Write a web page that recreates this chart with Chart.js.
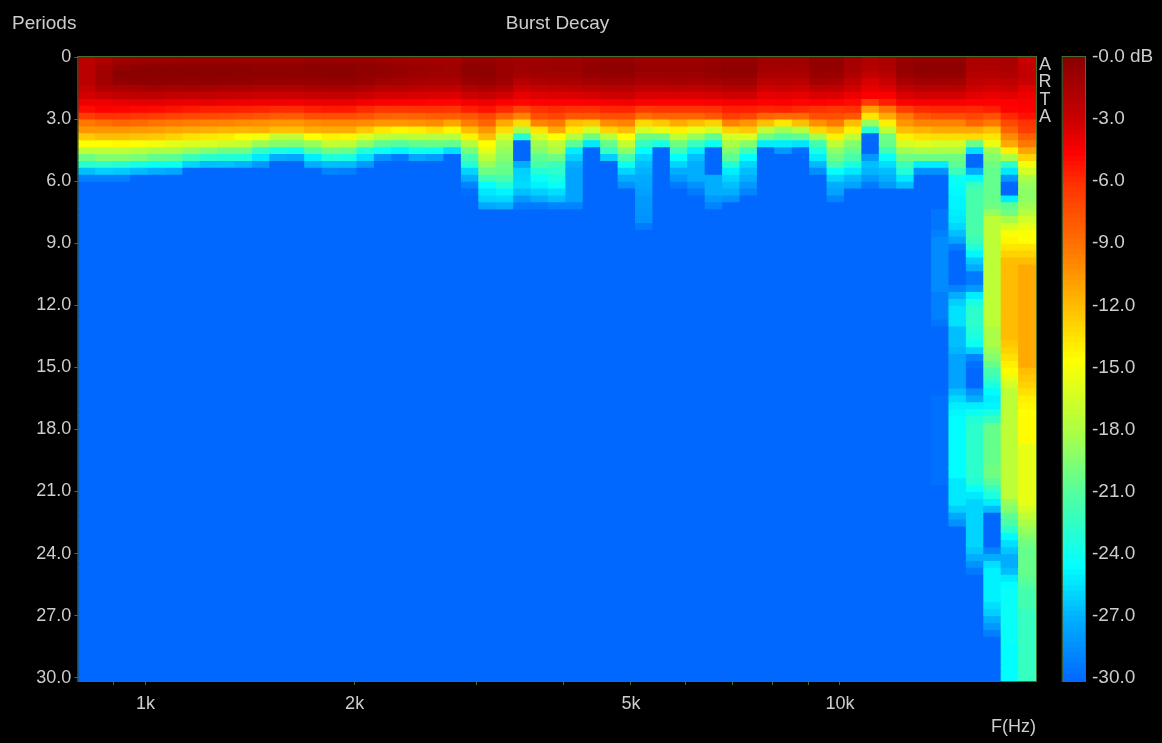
<!DOCTYPE html>
<html>
<head>
<meta charset="utf-8">
<title>Burst Decay</title>
<script src="https://cdn.jsdelivr.net/npm/chart.js@4/dist/chart.umd.min.js"></script>
<style>
  html, body { margin: 0; padding: 0; background: #000; overflow: hidden; }
  #wrap { position: relative; width: 1162px; height: 743px; }
  #decay { position: absolute; left: 0; top: 0; }
  #scale { position: absolute; left: 1040px; top: 0; }
</style>
</head>
<body>
<div id="wrap">
  <canvas id="decay" width="1162" height="743"></canvas>
  <canvas id="scale" width="122" height="743"></canvas>
</div>
<script>
// 1/12 octave columns, lower edge of each band in Hz
const freqs = [800,848,898,951,1008,1068,1131,1199,1270,1345,1425,1510,1600,1695,1796,1903,2016,2136,2263,2397,2540,2691,2851,3020,3200,3390,3592,3805,4032,4271,4525,4795,5080,5382,5702,6041,6400,6781,7184,7611,8063,8543,9051,9589,10159,10764,11404,12082,12800,13561,14368,15222,16127,17086,18102];
const freqTicks = [900,1000,2000,3000,4000,5000,6000,7000,8000,9000,10000];
const freqTickLabels = ["","1k","2k","","","5k","","","","","10k"];
const periodTicks = [0,3,6,9,12,15,18,21,24,27,30];
const dbTicks = [0,-3,-6,-9,-12,-15,-18,-21,-24,-27,-30];
const rowsPerPeriod = 3;
const rowCount = 91;
const floorDb = 30;

// dB below peak, one list per column, one value per 1/3 period; rows past the end sit at the floor
const decay = [
  [2.2,2.2,2.2,2.2,2.6,3.2,4,4.8,6.5,9.2,10.4,12.4,14.5,17.2,20,22.8,26.5,29],
  [1.6,1.2,1,1.2,1.6,2.8,4,4.5,6,8.8,10.4,12,14.5,17.2,19.3,22.6,26,29],
  [.9,.3,0,.3,1.4,2.5,3.8,4.6,6,8.3,10.4,12,14.3,17.2,19.3,23,26.2,29],
  [.8,.1,0,.2,1.3,2.4,3.7,4.7,6.3,8.6,10.6,12.2,14.7,17.6,19.6,23.6,26.6],
  [.7,0,0,.2,1.2,2.4,3.7,4.8,6.5,9,10.7,12.4,15,18,20.4,24,27],
  [.7,0,0,.2,1.3,2.5,3.8,5,6.8,9.2,11,12.8,15.6,18,20.6,24,27.4],
  [.6,0,0,.3,1.2,2.6,3.9,5.2,7,9.4,11.2,13.3,16,18.8,22,25.8],
  [.6,0,0,.2,1.3,2.6,3.8,5.4,7.1,9.6,11.3,13.6,16.2,19.4,22.7,26.5],
  [.6,0,0,.3,1.5,2.7,4,5.4,7.2,9.7,11.6,13.8,16.6,20,23,26.4],
  [.7,0,.2,.4,1.5,2.8,4,5.5,7.4,10,11.6,14.4,17,20,23.2,26.8],
  [.7,.2,.2,.5,1.7,3,4.1,5.6,7.6,10.2,11.4,15,18.6,22.3,25.2,27.9],
  [.7,.2,.2,.5,1.7,2.9,4.1,5.8,7.9,10.4,12,17,19.3,23.5,27.1],
  [.7,.2,.2,.6,1.7,3,4.2,5.8,7.9,10.4,12,17,19.4,23.8,27.4],
  [.5,0,.2,.6,1.5,2.8,4,5.4,7.4,10,11.3,14.5,18.7,21,25,27.1],
  [.5,0,.1,.4,1.3,2.7,3.9,5.2,7.3,9.8,11.2,14,17,20,23.2,26.5,28.8],
  [.6,0,.1,.4,1.3,2.7,3.9,5.2,7.3,9.8,11.2,14.2,17.2,20.2,23.4,26.6,29],
  [.6,.2,.3,.6,1.6,3,4.2,5.8,7.6,10,12.4,16,19,23,25.5,27.9],
  [.7,.3,.4,.9,2,3.3,4.4,6.2,8.2,10.4,13.6,17.2,20.6,24.2,28.2],
  [1,.5,.6,1.1,2.1,3.3,4.5,6.2,8.4,10.4,14.2,17.6,21,24.8,29.2],
  [1.1,.7,.8,1.3,2.2,3.4,4.5,6.1,8.2,10.2,13.9,17.2,20.5,23.8,27.4],
  [1.2,.8,.9,1.4,2.3,3.4,4.6,6,8,10,13.3,17.6,20.2,24,27.8],
  [1.2,.9,1,1.5,2.4,3.5,4.6,6.2,8,11,14.2,17.6,20.5,25.5],
  [.5,.2,.3,.7,1.7,3,4.2,5.4,7.7,9.4,12,14,17.7,19.8,21.5,23,25.8,27.1,28.8,29.7],
  [.5,.2,.2,.5,1.5,2.8,4,5,6.9,8.3,10.4,12,14.5,15.5,17.2,18.7,20,21.8,24.4,25.2,25.8,27.3],
  [.8,.7,.7,1,1.9,3.2,4.4,5.7,8.3,11.2,13.2,16.4,18,18.7,19.3,20,20.3,21.4,23,24.8,25.7,27],
  [1,.9,1.2,2,2.9,3.8,4.6,6.9,9.6,13.1,18,23,30,30,30,27.1,26,25.8,25.6,26.5,27.9,29.2],
  [.9,.8,1,1.6,2.6,3.6,4.5,6,7.3,9.6,13.5,16.4,18.4,19.3,20.6,21.4,23,24.2,24.9,26,27.1,29.2],
  [.8,.7,1,1.5,2.5,3.5,4.5,5.8,6.9,9.2,11.2,14.5,17.2,18,20,22,22.6,23.4,24.2,25.5,26.5,28.8],
  [.8,.7,.9,1.4,2.4,3.5,4.5,6,7.7,12,13.7,17.6,20.6,25,26,27.1,27.5,27.5,27.5,27.5,27.5,28.8],
  [.5,.3,.5,1.1,2.2,3.3,4.4,6,7.7,12.4,16.4,20,25.2],
  [.4,.2,.4,1,2,3.1,4.3,5.6,7.3,10,12.8,17.6,20.4,22.2,26],
  [.4,.2,.4,1,2,3,4.2,5.6,7.3,9.6,12,14.5,17,19,21.5,24,25.8,27.1,28.2],
  [.8,.6,.8,1.3,2.3,3.4,4.5,6.4,8.8,13,16.4,20,22.3,24.5,25.8,26.5,26.9,27.2,27.4,27.6,27.9,27.9,28.1,28.2,29.2],
  [.8,.6,.8,1.3,2.3,3.4,4.5,6.2,8.3,12.4,15.5,20,23.5],
  [.8,.6,.7,1.2,2.2,3.4,4.5,6.2,8.3,11.2,14,17.2,20,22,24.4,25.8,27.1,27.9,29.2],
  [.8,.6,.8,1.3,2.3,3.4,4.5,6.2,8.3,12,15.5,18.7,22.2,25,26.5,27.1,27.1,27.1,28.2,29.2],
  [.6,.4,.6,1.1,2.2,3.3,4.4,6,7.7,12.8,16.4,20.4,24,30,30,30,30,27.1,27.1,27.1,27.9,28.8],
  [.3,.2,.3,.9,1.9,3.1,4.3,5.4,6.5,9.6,12.8,16.4,18,19.3,20.6,23,25,25.8,26.5,27.1,28.2],
  [.3,.2,.3,.9,1.9,3.1,4.3,5.4,6.9,10.4,12.4,16,19.3,21.8,24.5,25.8,26.5,27.1,27.9,28.8],
  [1,1.2,1.5,2.2,3,3.8,4.5,5.6,8.3,12,17.2,20,25],
  [.9,1.1,1.4,2,2.8,3.7,4.4,5.5,8.6,13.6,18.5,21,25,27.9],
  [1,1.2,1.5,2.2,3,3.8,4.6,5.8,8.6,12,17.6,20.6,25.3,29.6],
  [.3,.4,.6,1.2,2.3,3.4,4.5,6,7.3,10.2,13,18.2,21.8,23.4,25,26.7,28.4],
  [.3,.4,.7,1.3,2.4,3.5,4.6,6.3,7.3,9.2,12,13.9,17.2,19,20,21.4,24.3,25.8,27.1,27.5,28.8],
  [1.2,1.3,1.6,2.3,3.1,4,4.8,6,7.7,12,14,17.2,19.3,20.3,21.4,23.4,25.2,26.7,27.5],
  [1.7,1.9,2.5,3.4,3.8,4.4,6.5,10.8,13.5,18.7,23,30,30,30,27.9,26.5,26.8,27.9,29.2],
  [1.4,1.6,2,2.8,3.5,4.4,5.4,9,11.2,13.9,17.2,20,20.3,21.8,24.2,25.5,26.5,27.1,27.9],
  [.6,.5,.7,1.3,2.4,3.4,4.5,6.5,9.2,10.4,12,13.9,16.4,18.4,20,21.8,23,25.2,26.5],
  [.3,.2,.4,1,2.1,3.2,4.3,5.8,7.7,9.6,11.6,13.3,15.8,18,20,25,28.2],
  [.3,.2,.4,1,2.1,3.2,4.3,5.6,7.3,9.6,11.2,13.2,16.4,18,20,25,28.2,30,30,30,30,30,29.4,29.4,29.4,29,28.5,28.5,28.5,28.5,28.5,28.5,28.5,28.5,29,29,29,29,29.4,30,30,30,30,30,30,30,30,30,30,29.6,29.6,29.6,29.6,29.6,29.6,29.6,29.6,29.6,29.6,29.6,29.6,29.6],
  [.3,.2,.4,1.1,2.1,3.2,4.3,5.6,7.3,9.6,11.2,13.2,16.4,18,20,20.6,22,24,24.4,24.6,24.8,24.8,25,25.2,25.7,26.5,27.5,29.2,30,30,30,30,30,28.8,27.1,26,25.4,25.4,25.4,26.5,26.5,26.5,26.8,27.5,27.5,27.5,27.5,27.5,26.5,25.7,25,24.7,24.5,24.5,24.5,24.5,24.5,24.5,24.5,24.5,24.5,25.2,25.2,25.2,25.2,26,27.3,28.2],
  [1.4,1.6,1.8,2.3,3,3.7,4.5,5.7,6.9,8.3,11.2,13.1,20.3,25.5,30,30,27.1,24.6,22.2,21.4,21.4,21.4,21.4,21.4,21.4,21.4,22,23,24.7,26.2,27.1,29.2,29.2,27.9,25,23.4,22.6,22.6,22.6,23,23.4,24,26,28.8,29.6,30,30,30,28.2,27.1,25,24,23,22.6,22.6,22.6,22.6,22.6,22.6,22.6,22.6,23,24.3,25.2,25.8,25.8,25.8,25.8,25.8,25.8,25.8,26.3,27.1,28.2,29.2],
  [1.4,1.6,1.9,2.5,3.2,3.9,4.5,5.4,7.5,9.2,12,13.5,15.5,18.4,19.3,20,20.3,20.3,20.3,20.3,20.3,20,18.7,17.2,17.2,17.2,17.2,17.2,17.2,17.2,17.2,17.2,17.2,17.2,17.2,17.2,17.2,17.2,17.2,18,18,18,18.7,19.3,20.3,21.4,22.2,23.4,24.6,25,24.8,23.4,22.2,20.3,20.3,20.3,20.3,20.3,20.3,20,20,20.8,22.2,23.4,25,26.7,30,30,30,30,30,28.8,27.1,25.5,24.9,24.9,24.9,24.9,24.9,25.5,26,27.1,27.9,29],
  [1.3,1.5,1.7,2.3,3,3.7,4.5,4.6,5.7,7,8.3,10,11.2,13.9,18,22.5,25.2,28,30,30,25,20.6,20,18,16.4,14.8,14.2,13.5,12.8,12,11.9,11.9,11.9,11.9,11.9,11.9,11.9,11.9,11.9,11.9,11.9,12.4,12.8,13.3,13.9,14.3,15.5,16.4,17.2,17.2,17.2,17.2,17.2,17.2,17.2,17.2,17.2,17.2,17.2,17.2,17.2,17.2,17.2,17.2,18.7,19.3,20.6,21.4,22.6,24.6,25.5,26.3,27.1,27.1,26.5,25.2,24.5,24.2,24.2,24.2,24.2,24.2,24.2,24.2,24.2,24.5,24.5,24.5,24.5,24.5,24.5],
  [2.8,2.5,2.5,2.8,3.6,4,4.3,4.5,5,6,6.5,8,9.2,11,12.8,15,16.4,18,18.7,19,19,18.4,17.6,16.4,15.5,14.7,14.5,13.5,12.8,12,11.2,11.2,11.2,11.2,11.2,11.2,11.2,11.2,11.2,11.2,11.2,11.2,11.2,11.2,11.2,12,12.4,12.8,13.3,13.9,14.2,14.5,14.4,14.4,14.4,14.4,15.5,15.5,15.5,15.5,15.5,15.5,15.5,15.5,15.5,16.4,17.2,18,18.7,19.3,20,20.3,20.3,20.3,20.3,20.6,21,21.6,21.6,21.6,22.2,22.2,22.2,22.2,22.2,22.2,22.2,22.2,22.2,22.2,22.2]
];

// colour ramp
const rampDb = [0,3,4.5,6,9,12,14.5,18,21,24.5,27,30];
const rampRgb = [[139,0,0],[205,0,0],[255,0,0],[255,50,0],[255,115,0],[255,190,0],[255,255,0],[170,255,70],[80,255,160],[0,255,255],[0,175,255],[0,104,255]];

const textColor = "rgb(205,205,205)";
const frameColor = "rgb(70,110,45)";
const fontFamily = "'Liberation Sans', Arial, sans-serif";

function dbColor(db) {
  let i = 0;
  while (i < rampDb.length - 2 && db > rampDb[i + 1]) i++;
  const t = (db - rampDb[i]) / (rampDb[i + 1] - rampDb[i]);
  const a = rampRgb[i], b = rampRgb[i + 1];
  return "rgb(" + a.map((v, k) => Math.round(v + (b[k] - v) * t)).join(",") + ")";
}

const frameAndText = {
  id: "frameAndText",
  afterDraw(chart) {
    const c = chart.ctx, a = chart.chartArea;
    c.save();
    c.strokeStyle = frameColor;
    c.lineWidth = 1;
    c.strokeRect(a.left - 0.5, a.top - 0.5, a.right - a.left + 1, a.bottom - a.top + 1);
    c.fillStyle = textColor;
    c.font = "19px " + fontFamily;
    c.textBaseline = "middle";
    c.textAlign = "left";
    c.fillText("Periods", 12, 24);
    c.textAlign = "center";
    c.fillText("Burst Decay", 557.5, 24);
    c.font = "18px " + fontFamily;
    ["A", "R", "T", "A"].forEach((l, i) => c.fillText(l, 1045, 65 + i * 17.3));
    c.textAlign = "right";
    c.fillText("F(Hz)", 1036, 727);
    c.restore();
  }
};

function decayChart() {
  const rows = [];
  for (let r = 0; r < rowCount; r++) {
    rows.push({
      data: freqs.map(() => [r / rowsPerPeriod, (r + 1) / rowsPerPeriod]),
      backgroundColor: freqs.map((f, c) => dbColor(decay[c][r] ?? floorDb)),
      xAxisID: "x",
      yAxisID: "y",
      grouped: false,
      barPercentage: 1,
      categoryPercentage: 1,
      borderWidth: 0,
      inflateAmount: 0.5,
    });
  }
  new Chart(document.getElementById("decay").getContext("2d"), {
    type: "bar",
    data: { labels: freqs, datasets: rows },
    options: {
      responsive: false,
      animation: false,
      events: [],
      layout: { padding: { left: 0, right: 126, top: 57, bottom: 0 } },
      plugins: { legend: { display: false }, tooltip: { enabled: false } },
      scales: {
        x: { display: false },
        f: {
          type: "logarithmic",
          position: "bottom",
          min: 800,
          max: 19156,
          offset: false,
          afterBuildTicks: (s) => { s.ticks = freqTicks.map((v) => ({ value: v })); },
          afterFit: (s) => { s.height = 62; },
          grid: { offset: false, drawOnChartArea: false, tickLength: 4, tickColor: frameColor },
          border: { display: false },
          ticks: {
            autoSkip: false,
            maxRotation: 0,
            padding: 8,
            color: textColor,
            font: { family: fontFamily, size: 18 },
            callback: (v) => freqTickLabels[freqTicks.indexOf(v)],
          },
        },
        y: {
          reverse: true,
          min: 0,
          max: 30.16,
          afterBuildTicks: (s) => { s.ticks = periodTicks.map((v) => ({ value: v })); },
          afterFit: (s) => { s.width = 78.3; },
          grid: { drawOnChartArea: false, tickLength: 4, tickColor: frameColor },
          border: { display: false },
          ticks: {
            padding: 3,
            color: textColor,
            font: { family: fontFamily, size: 18 },
            callback: (v) => (v === 0 ? "0" : v.toFixed(1)),
          },
        },
      },
    },
    plugins: [frameAndText],
  });
}

function scaleChart() {
  const levels = [];
  for (let i = 0; i < 121; i++) levels.push(i / 4);
  new Chart(document.getElementById("scale").getContext("2d"), {
    type: "bar",
    data: {
      labels: ["dB"],
      datasets: levels.map((d) => ({
        data: [[-d, -d - 0.25]],
        backgroundColor: dbColor(d),
        grouped: false,
        barPercentage: 1,
        categoryPercentage: 1,
        borderWidth: 0,
        inflateAmount: 0.5,
      })),
    },
    options: {
      responsive: false,
      animation: false,
      events: [],
      layout: { padding: { left: 22.7, right: 0, top: 57, bottom: 62 } },
      plugins: { legend: { display: false }, tooltip: { enabled: false } },
      scales: {
        x: { display: false },
        y: {
          position: "right",
          min: -30.16,
          max: 0,
          afterBuildTicks: (s) => { s.ticks = dbTicks.map((v) => ({ value: v })); },
          afterFit: (s) => { s.width = 77; },
          grid: { display: false, drawTicks: false },
          border: { display: false },
          ticks: {
            padding: 7,
            color: textColor,
            font: { family: fontFamily, size: 19 },
            callback: (v) => (v === 0 ? "-0.0 dB" : v.toFixed(1)),
          },
        },
      },
    },
    plugins: [{
      id: "barFrame",
      afterDraw(chart) {
        const a = chart.chartArea, c = chart.ctx;
        c.save();
        c.strokeStyle = frameColor;
        c.strokeRect(a.left - 0.5, a.top - 0.5, a.right - a.left + 1, a.bottom - a.top + 1);
        c.restore();
      },
    }],
  });
}

decayChart();
scaleChart();
</script>
</body>
</html>
